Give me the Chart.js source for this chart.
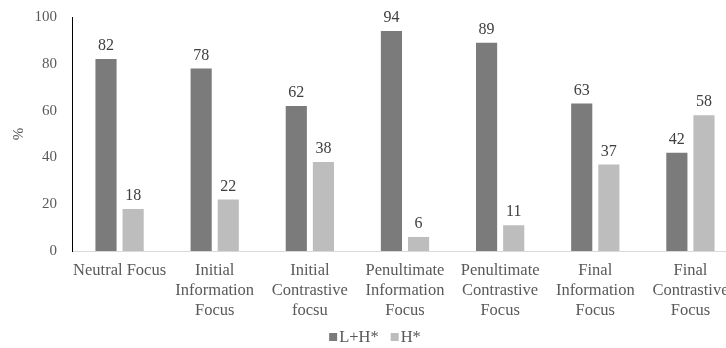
<!DOCTYPE html>
<html>
<head>
<meta charset="utf-8">
<script src="https://cdn.jsdelivr.net/npm/chart.js@4/dist/chart.umd.min.js"></script>
<style>
  html, body { margin: 0; padding: 0; background: #fff; overflow: hidden; }
  #wrap { width: 726px; height: 348px; overflow: hidden; }
  canvas { display: block; }
</style>
</head>
<body>
<div id="wrap"><canvas id="c" width="738" height="348"></canvas></div>
<script>
// Share of each accent type per focus condition (%)
const categories = [
  "Neutral Focus",
  ["Initial", "Information", "Focus"],
  ["Initial", "Contrastive", "focsu"],
  ["Penultimate", "Information", "Focus"],
  ["Penultimate", "Contrastive", "Focus"],
  ["Final", "Information", "Focus"],
  ["Final", "Contrastive", "Focus"]
];
const seriesNames = ["L+H*", "H*"];
const lhStar = [82, 78, 62, 94, 89, 63, 42];
const hStar = [18, 22, 38, 6, 11, 37, 58];
const yTicks = [0, 20, 40, 60, 80, 100];

const FONT = "'Liberation Serif', 'Times New Roman', serif";
const TEXT = "#595959";

// Value labels above each bar
const valueLabels = {
  id: "valueLabels",
  afterDatasetsDraw(chart) {
    const ctx = chart.ctx;
    ctx.save();
    ctx.font = "16px " + FONT;
    ctx.fillStyle = "#404040";
    ctx.textAlign = "center";
    ctx.textBaseline = "bottom";
    chart.data.datasets.forEach((ds, i) => {
      chart.getDatasetMeta(i).data.forEach((bar, j) => {
        ctx.fillText(String(ds.data[j]), bar.x, bar.y - 5);
      });
    });
    ctx.restore();
  }
};

// Compact legend centred under the plot: small square, then the series name
const bottomLegend = {
  id: "bottomLegend",
  afterDraw(chart) {
    const ctx = chart.ctx;
    ctx.save();
    ctx.font = "16.5px " + FONT;
    ctx.textBaseline = "middle";
    ctx.textAlign = "left";
    const box = 8, gap = 2, itemGap = 12;
    const items = chart.data.datasets.map(ds => ({
      text: ds.label, color: ds.backgroundColor,
      w: box + gap + ctx.measureText(ds.label).width
    }));
    const total = items.reduce((s, it) => s + it.w, 0) + itemGap * (items.length - 1);
    const cx = 375;
    const y = 337;
    let x = cx - total / 2;
    items.forEach(it => {
      ctx.fillStyle = it.color;
      ctx.fillRect(x, y - box / 2, box, box);
      ctx.fillStyle = TEXT;
      ctx.fillText(it.text, x + box + gap, y + 1);
      x += it.w + itemGap;
    });
    ctx.restore();
  }
};

new Chart(document.getElementById("c"), {
  type: "bar",
  data: {
    labels: categories,
    datasets: [
      { label: seriesNames[0], data: lhStar, backgroundColor: "#7b7b7b" },
      { label: seriesNames[1], data: hStar, backgroundColor: "#bdbdbd" }
    ]
  },
  options: {
    responsive: false,
    animation: false,
    devicePixelRatio: 1,
    categoryPercentage: 0.57,
    barPercentage: 0.78,
    layout: { padding: { top: 17, right: 0, left: 0, bottom: 0 } },
    plugins: {
      tooltip: { enabled: false },
      legend: { display: false }
    },
    scales: {
      x: {
        grid: { display: false, drawTicks: false },
        border: { display: true, color: "#d9d9d9", width: 1 },
        ticks: {
          font: { family: FONT, size: 16.5, lineHeight: 1.2 },
          color: TEXT,
          maxRotation: 0,
          autoSkip: false,
          padding: 10
        },
        afterFit(scale) {
          scale.height = 97;
          scale.paddingLeft = 0;
          scale.paddingRight = 0;
        }
      },
      y: {
        min: 0,
        max: 100,
        afterBuildTicks(scale) { scale.ticks = yTicks.map(v => ({ value: v })); },
        grid: { display: false, drawTicks: false },
        border: { display: true, color: "#000", width: 1 },
        ticks: {
          font: { family: FONT, size: 15 },
          color: TEXT,
          padding: 15
        },
        title: {
          display: true,
          text: "%",
          font: { family: FONT, size: 15 },
          color: TEXT,
          padding: { top: 10, bottom: 0 }
        },
        afterFit(scale) {
          scale.width = 72;
          scale.paddingTop = 0;
          scale.paddingBottom = 0;
        }
      }
    }
  },
  plugins: [valueLabels, bottomLegend]
});
</script>
</body>
</html>
